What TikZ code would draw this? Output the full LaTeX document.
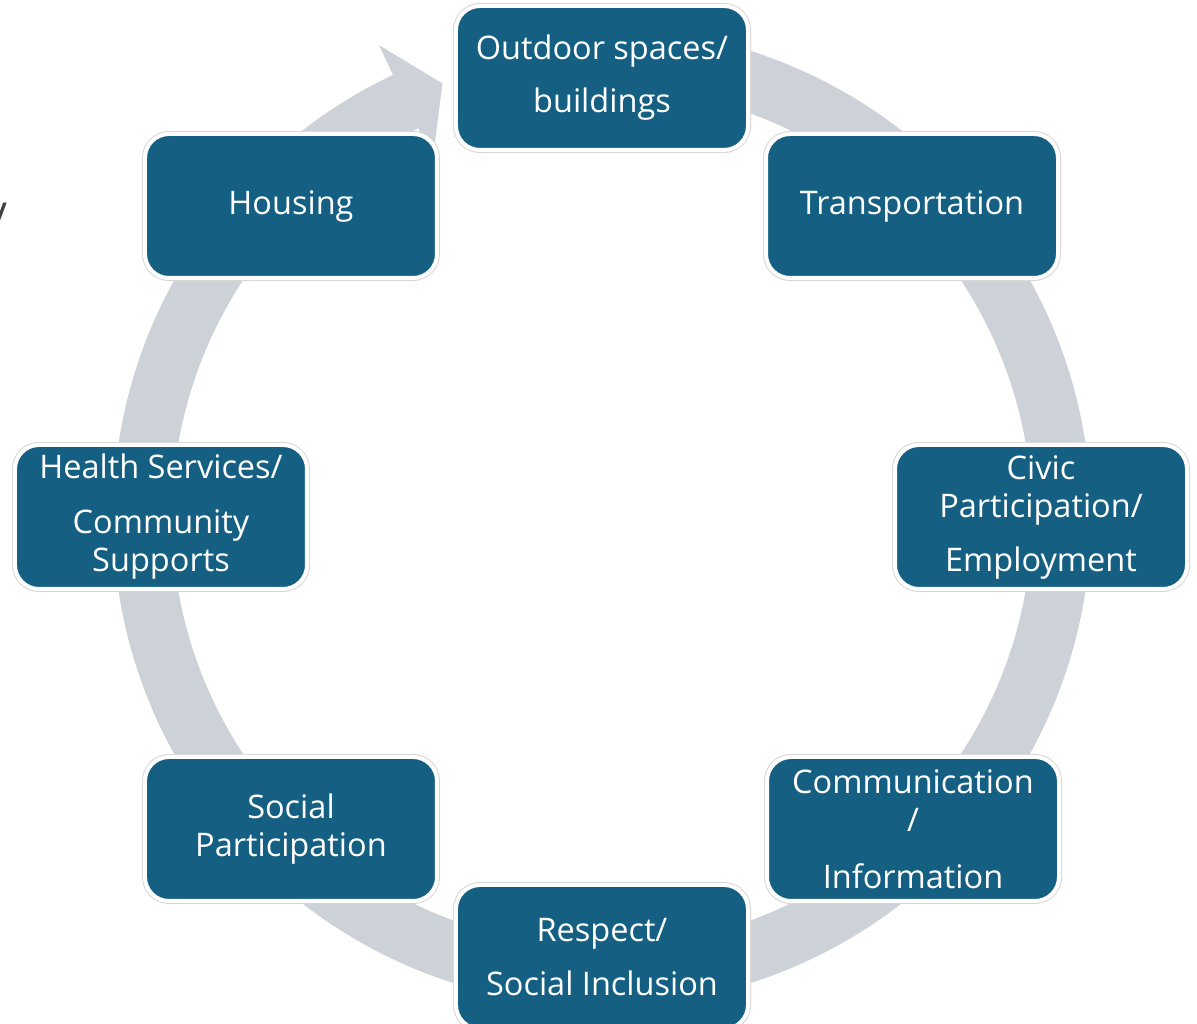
\documentclass[tikz,border=0pt]{standalone}
\usepackage{fontspec}
\setmainfont{Open Sans}
\definecolor{teal}{HTML}{156082}
\definecolor{ringgray}{HTML}{CDD2D8}
\definecolor{edgegray}{HTML}{D6D6D6}
\begin{document}
\begin{tikzpicture}[x=1pt,y=1pt,
  box/.style={rectangle, rounded corners=24pt, fill=teal, draw=white, line width=4pt,
    minimum width=292pt, minimum height=144pt, text=white, align=center,
    inner sep=0pt, font=\fontsize{32.5}{38}\selectfont,
    preaction={draw=edgegray, line width=6pt}}]
\useasboundingbox (-602,-507) rectangle (595,517);
% ring arrow
\fill[ringgray] (90:489pt) arc[start angle=90, end angle=-244.7, radius=489pt]
  -- (-244.7:430pt) arc[start angle=-244.7, end angle=90, radius=430pt] -- cycle;
\fill[ringgray] (115.3:522pt) -- (110.2:462pt) -- (115.3:396pt) -- cycle;
% boxes
\node[box] (out) at (0,439) {Outdoor spaces/\\[15pt]buildings};
\node[box] (trans) at (310,311) {Transportation};
\node[box] (civic) at (439,0) {Civic\\Participation/\\[16pt]Employment};
\node[box] (comm) at (311,-312) {Communication\\/\\[19pt]Information};
\node[box] (resp) at (0,-440) {Respect/\\[16pt]Social Inclusion};
\node[box] (soc) at (-311,-312) {Social\\Participation};
\node[box] (health) at (-441,0) {Health Services/\\[17pt]Community\\Supports};
\node[box] (house) at (-311,311) {Housing};
% stray slash fragment at left edge
\node[anchor=base west, inner sep=0pt, text=black!75, font=\fontsize{44}{44}\selectfont] (frag) at (-611,282) {/};
\end{tikzpicture}
\end{document}
